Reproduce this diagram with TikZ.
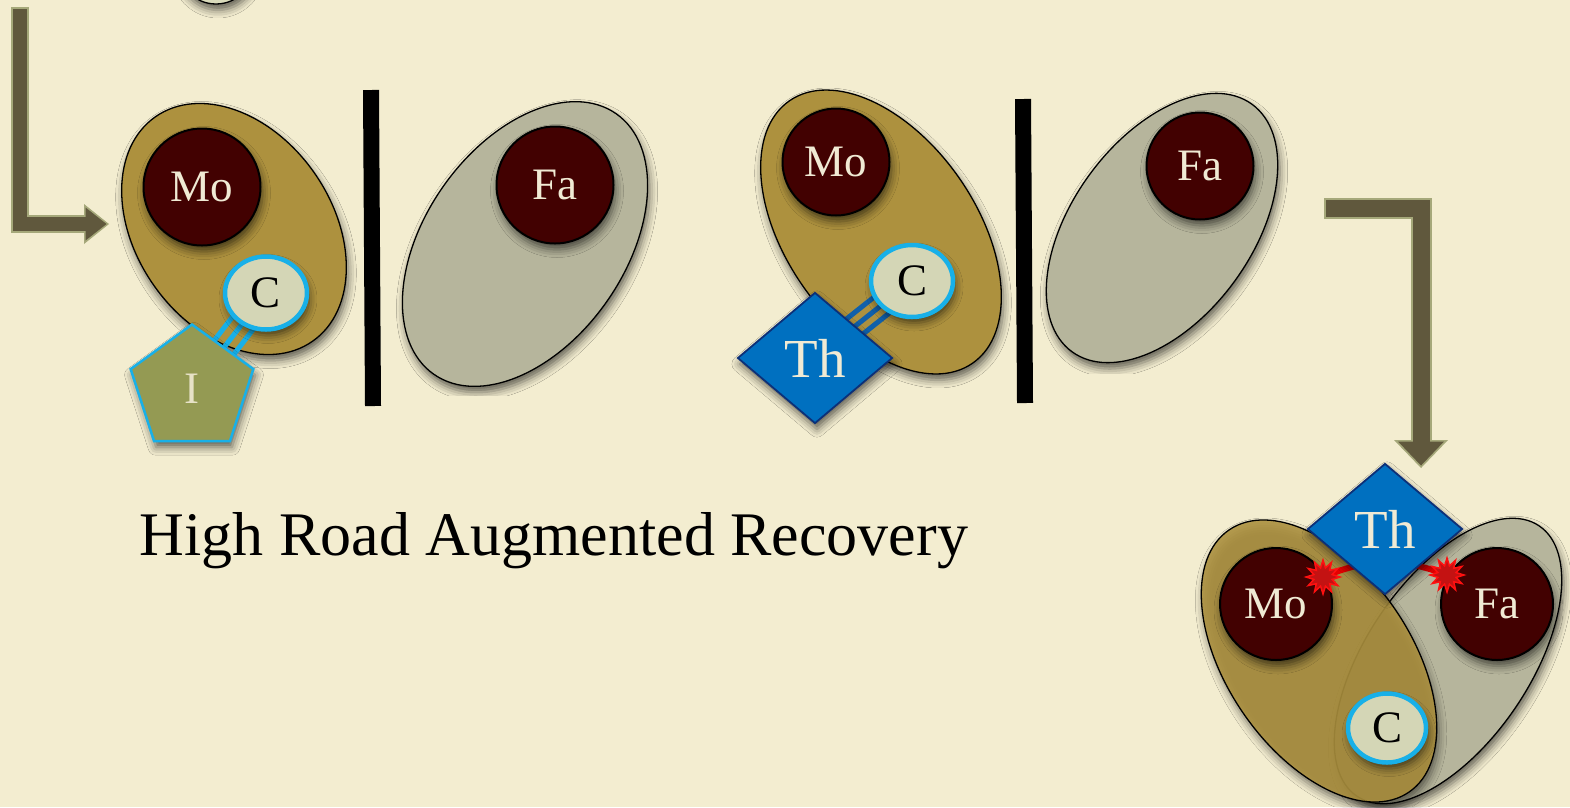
\documentclass[tikz,border=0pt]{standalone}
\usepackage{fontspec}
\setmainfont{Liberation Serif}
\usetikzlibrary{shapes.geometric,arrows.meta,calc,shadows.blur}
\definecolor{paper}{RGB}{243,237,208}
\definecolor{goldzone}{RGB}{173,145,62}
\definecolor{sagezone}{RGB}{182,181,156}
\definecolor{maroon}{RGB}{66,1,1}
\definecolor{paleC}{RGB}{212,214,182}
\definecolor{cyanrim}{RGB}{24,176,232}
\definecolor{olivepent}{RGB}{148,154,83}
\definecolor{thblue}{RGB}{0,112,192}
\definecolor{thrim}{RGB}{12,48,120}
\definecolor{linkblue}{RGB}{16,96,170}
\definecolor{cream}{RGB}{240,234,212}
\definecolor{flowfill}{RGB}{96,88,61}
\definecolor{flowrim}{RGB}{165,168,122}
\definecolor{burstred}{RGB}{196,18,18}
\definecolor{burstrim}{RGB}{255,16,16}
\newcommand{\lblsize}{\fontsize{45}{54}\selectfont}
\newcommand{\thsize}{\fontsize{55}{66}\selectfont}
\newcommand{\titlesize}{\fontsize{62}{74}\selectfont}

\begin{document}
\begin{tikzpicture}[x=1pt, y=-1pt,
  soft/.style={blur shadow={shadow xshift=2pt, shadow yshift=-6pt,
               shadow blur radius=8pt, shadow opacity=60}},
  zone/.style={ellipse, draw=black, line width=1.3pt, inner sep=0pt, soft},
  mozone/.style={zone, fill=goldzone},
  fazone/.style={zone, fill=sagezone},
  parent/.style={circle, draw=black, line width=2pt, fill=maroon, text=cream,
                 font=\lblsize, inner sep=0pt, soft},
  child/.style={ellipse, draw=cyanrim, line width=4.5pt, fill=paleC,
                font=\lblsize, inner sep=0pt, soft},
  client/.style={regular polygon, regular polygon sides=5, draw=cyanrim,
                 line width=2.5pt, fill=olivepent, text=cream!90!olivepent,
                 font=\lblsize, inner sep=0pt, minimum size=129pt, soft},
  therapist/.style={diamond, draw=thrim, line width=1.8pt, fill=thblue,
                    text=cream, font=\thsize, inner sep=0pt,
                    minimum width=155pt, minimum height=131pt, soft},
  burst/.style={star, star points=12, star point ratio=1.8, fill=burstred,
                draw=burstrim, line width=1.5pt, minimum size=34pt, inner sep=0pt},
  bond/.style={line width=5pt},
  harm/.style={line width=6pt, draw=red!90!black},
  wall/.style={line width=16pt, draw=black},
  flowout/.style n args={3}{line width=#1, draw=flowrim,
                 -{Triangle[length=#2, width=#3, line width=0pt]}},
  flowin/.style n args={3}{line width=#1, draw=flowfill, shorten <=2pt,
                 shorten >=2.5pt, -{Triangle[length=#2, width=#3, line width=0pt]}}]
\useasboundingbox (0,0) rectangle (1570,807);
\fill[paper] (0,0) rectangle (1570,807);
% left over from the step above
\draw[fill=paleC!80!paper, line width=1.3pt, soft] (216,-38) ellipse [x radius=40, y radius=42];

% flow arrows
\coordinate (inA) at (20,7);
\coordinate (inB) at (109,224);
\draw[flowout={18pt}{25pt}{40pt}] (inA) |- (inB);
\draw[flowin={14pt}{21pt}{33pt}] (inA) |- (inB);
\coordinate (outA) at (1324,208);
\coordinate (outB) at (1421,468);
\draw[flowout={21pt}{28pt}{54pt}] (outA) -| (outB);
\draw[flowin={17pt}{24pt}{46pt}] (outA) -| (outB);

% step 1: client I
\node[mozone, minimum width=274pt, minimum height=196pt, rotate=-55] (moZoneA) at (234,229) {};
\node[fazone, minimum width=318pt, minimum height=200pt, rotate=55] (faZoneA) at (525,244) {};
\node[parent, minimum size=117pt] (moA) at (202,187) {Mo};
\node[parent, minimum size=117pt] (faA) at (555,185) {Fa};
\coordinate (iA) at (192,389);
\coordinate (cA) at (266,293);
\foreach \s in {-12pt,0pt,12pt}
  \draw[bond, cyanrim] ($(iA)!\s!90:(cA)$) -- ($(cA)!\s!-90:(iA)$);
\node[child, minimum width=82pt, minimum height=73pt] (cnA) at (cA) {C};
\node[client] (clientA) at (iA) {I};
\draw[wall] (371,90) -- (373,406);

% step 2: therapist
\node[mozone, minimum width=320pt, minimum height=190pt, rotate=-55] (moZoneB) at (881,232) {};
\node[fazone, minimum width=306pt, minimum height=180pt, rotate=54] (faZoneB) at (1162,228) {};
\node[parent, minimum size=107pt] (moB) at (836,162) {Mo};
\node[parent, minimum size=107pt] (faB) at (1200,166) {Fa};
\coordinate (thB) at (815,358);
\coordinate (cB) at (912,281);
\foreach \s in {-11pt,0pt,11pt}
  \draw[bond, linkblue] ($(thB)!\s!90:(cB)$) -- ($(cB)!\s!-90:(thB)$);
\node[child, minimum width=82pt, minimum height=72pt] (cnB) at (cB) {C};
\node[therapist] (thNodeB) at (thB) {Th};
\draw[wall] (1023,99) -- (1025,403);

% step 3: shared
\node[fazone, minimum width=326pt, minimum height=164pt, rotate=56] (faZoneC) at (1448,661) {};
\node[mozone, minimum width=318pt, minimum height=184pt, rotate=-55.5, fill opacity=0.88] (moZoneC) at (1319,661) {};
\node[parent, minimum size=112pt] (moC) at (1276,604) {Mo};
\node[parent, minimum size=112pt] (faC) at (1497,604) {Fa};
\node[child, minimum width=78pt, minimum height=69pt] (cnC) at (1387,728) {C};
\coordinate (hurtMo) at (1323,577);
\coordinate (hurtFa) at (1447,575);
\draw[harm] (hurtMo) to[bend left=22] (hurtFa);
\node[therapist] (thC) at (1385,529) {Th};
\node[burst] (boomMo) at (hurtMo) {};
\node[burst] (boomFa) at (hurtFa) {};

\node[font=\titlesize, anchor=base] (caption) at (554,555) {High Road Augmented Recovery};
\end{tikzpicture}
\end{document}
